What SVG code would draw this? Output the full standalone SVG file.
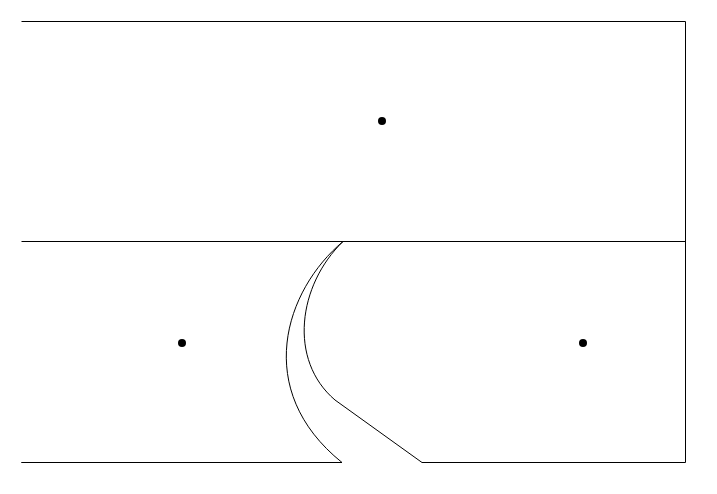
<svg xmlns="http://www.w3.org/2000/svg" width="717" height="494" viewBox="0 0 717 494">
<style>
.l{fill:none;stroke:#000;stroke-width:1}
.d{fill:#000}
</style>
<rect width="717" height="494" fill="#fff"/>
<g id="frame">
<path class="l" d="M21.5,21.5 H685.5 V462.5 H422 M342,462.5 H21.5 Z"/>
<line class="l" x1="21.5" y1="241.5" x2="685.5" y2="241.5"/>
</g>
<g id="connectors">
<path class="l" d="M343,241.5 C285,290 252,390 342,462.5"/>
<path class="l" d="M343,241.5 C298,285 288,360 335,400 L422,462.5"/>
</g>
<g id="node-top"><circle class="d" cx="382" cy="121" r="4"/></g>
<g id="node-left"><circle class="d" cx="182" cy="343" r="4"/></g>
<g id="node-right"><circle class="d" cx="583" cy="343" r="4"/></g>
</svg>
